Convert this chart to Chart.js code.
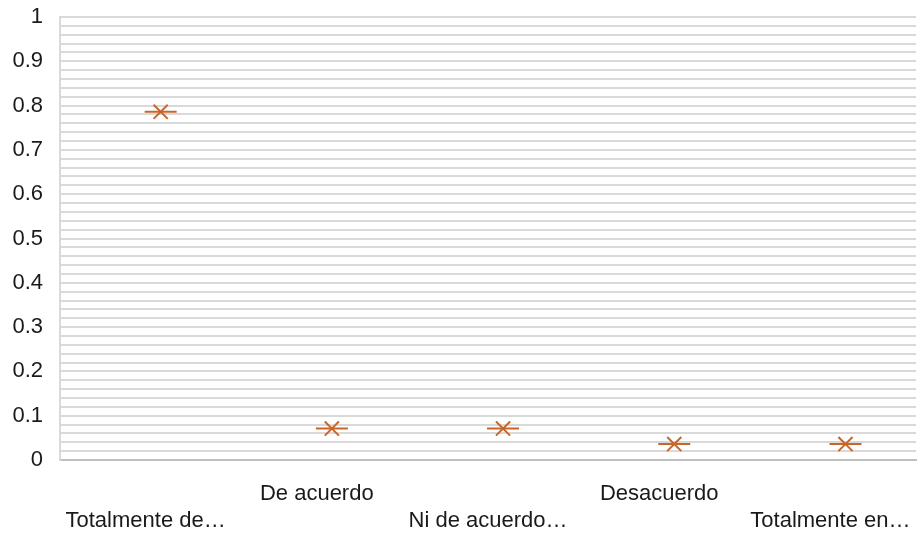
<!DOCTYPE html>
<html>
<head>
<meta charset="utf-8">
<script src="https://cdn.jsdelivr.net/npm/chart.js@4.4.1/dist/chart.umd.min.js"></script>
<style>
  html, body { margin: 0; padding: 0; background: #fff; }
  #wrap { width: 924px; height: 535px; }
</style>
</head>
<body>
<div id="wrap"><canvas id="chart"></canvas></div>
<script>
// answer categories (full text) and what the axis shows
const categories = ['Totalmente de acuerdo', 'De acuerdo', 'Ni de acuerdo ni en desacuerdo', 'Desacuerdo', 'Totalmente en desacuerdo'];
const tickLabels = ['Totalmente de…', 'De acuerdo', 'Ni de acuerdo…', 'Desacuerdo', 'Totalmente en…'];
const shares = [0.786, 0.071, 0.071, 0.036, 0.036];

const markColor = '#C8662A';

// labels alternate between two rows like the original
const labelRows = tickLabels.map((t, i) => (i % 2 === 0 ? ['', t] : [t]));

const points = shares.map((v, i) => ({ x: i, y: v }));

const ctx = document.getElementById('chart').getContext('2d');
new Chart(ctx, {
  type: 'scatter',
  data: {
    labels: categories,
    datasets: [
      {
        data: points,
        xAxisID: 'xs',
        pointStyle: 'crossRot',
        radius: 10,
        borderColor: markColor,
        borderWidth: 2,
        showLine: false,
      },
      {
        data: points,
        xAxisID: 'xs',
        pointStyle: 'line',
        radius: 16,
        borderColor: markColor,
        borderWidth: 2,
        showLine: false,
      },
    ],
  },
  options: {
    responsive: true,
    maintainAspectRatio: false,
    animation: false,
    layout: { autoPadding: false, padding: { top: 17, right: 8, left: 0, bottom: 0 } },
    plugins: { legend: { display: false }, tooltip: { enabled: false } },
    scales: {
      x: {
        type: 'category',
        labels: labelRows,
        position: 'bottom',
        offset: true,
        grid: { display: false, drawTicks: false, offset: true },
        border: { display: true, color: '#bfbfbf', width: 2 },
        ticks: {
          autoSkip: false,
          maxRotation: 0,
          padding: 20,
          color: '#1a1a1a',
          font: { family: 'Liberation Sans, Arial', size: 22, lineHeight: 1.25 },
        },
        afterFit: s => { s.height = 75; s.paddingLeft = 0; s.paddingRight = 0; },
      },
      // hidden axis the marks sit on: shifted a little right of the label centres
      xs: {
        type: 'linear',
        display: false,
        min: -0.5 - 0.088,
        max: 4.5 - 0.088,
      },
      y: {
        min: 0,
        max: 1,
        grid: { color: '#d9d9d9', lineWidth: 2, drawTicks: false },
        border: { display: true, color: '#d9d9d9', width: 2 },
        ticks: {
          stepSize: 0.02,
          autoSkip: false,
          padding: 17,
          color: '#1a1a1a',
          font: { family: 'Liberation Sans, Arial', size: 22 },
          callback: v => {
            const t = v * 10;
            return Math.abs(t - Math.round(t)) < 1e-6 ? String(+v.toFixed(1)) : '';
          },
        },
        afterFit: s => { s.width = 60; s.paddingTop = 0; s.paddingBottom = 0; },
      },
    },
  },
});
</script>
</body>
</html>
